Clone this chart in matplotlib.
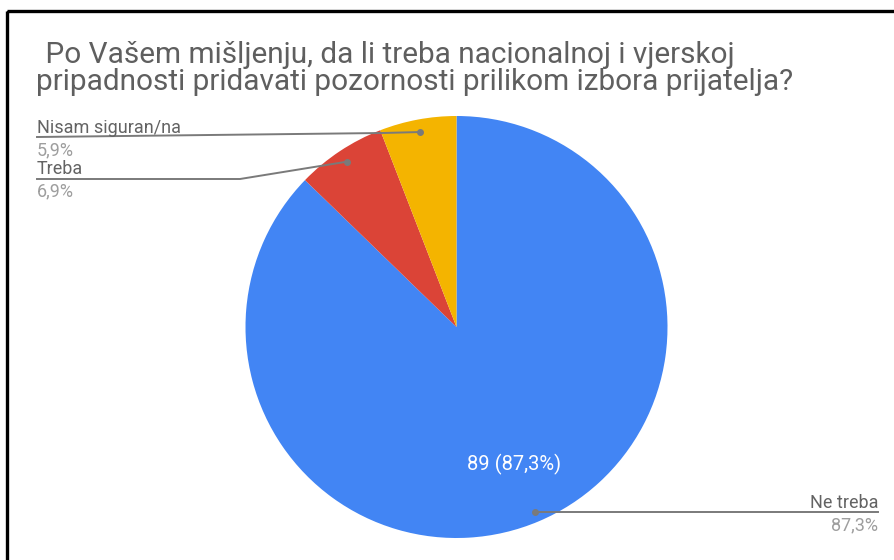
import matplotlib
matplotlib.use("Agg")
import matplotlib.pyplot as plt
from matplotlib.patches import Rectangle
import numpy as np

labels = ["Ne treba", "Treba", "Nisam siguran/na"]
counts = [89, 7, 6]
pct_text = ["87,3%", "6,9%", "5,9%"]
inner_text = "89 (87,3%)"
colors = ["#4285F4", "#DB4437", "#F4B400"]
title1 = " Po Vašem mišljenju, da li treba nacionalnoj i vjerskoj"
title2 = "pripadnosti pridavati pozornosti prilikom izbora prijatelja?"

W, H = 894, 560
fig = plt.figure(figsize=(W / 100, H / 100), dpi=100)
ax = fig.add_axes([0, 0, 1, 1])
plt.rcParams["font.family"] = ["Roboto", "DejaVu Sans"]

cx, cy, R = 456.5, 327, 211
wedges, _ = ax.pie(counts, colors=colors, startangle=-90, counterclock=True,
                   center=(cx, cy), radius=R, frame=True,
                   wedgeprops=dict(linewidth=0))
ax.set_xlim(0, W)
ax.set_ylim(H, 0)
ax.set_aspect("equal")
ax.axis("off")

# frame border
ax.add_patch(Rectangle((7, 11), 1000, 700, fill=False, edgecolor="black",
                       linewidth=2.4, zorder=10))

def anchor(w, f):
    t = np.deg2rad((w.theta1 + w.theta2) / 2)
    return cx + f * R * np.cos(t), cy + f * R * np.sin(t)

lc = "#7a7a7a"
label_col = "#636363"
pct_col = "#9e9e9e"
fs = 13

# Ne treba
ax_, ay_ = anchor(wedges[0], 0.95)
ax.plot([ax_, 878], [ay_, ay_], color=lc, lw=1.4)
ax.plot(ax_, ay_, "o", color=lc, ms=4)
ax.text(878, 508, labels[0], ha="right", va="baseline", fontsize=fs, color=label_col)
ax.text(878, 530, pct_text[0], ha="right", va="baseline", fontsize=fs, color=pct_col)

# Treba
bx, by = anchor(wedges[1], 0.94)
ax.plot([37, 240, bx], [179, 179, by], color=lc, lw=1.4)
ax.plot(bx, by, "o", color=lc, ms=4)
ax.text(37, 174, labels[1], ha="left", va="baseline", fontsize=fs, color=label_col)
ax.text(37, 196, pct_text[1], ha="left", va="baseline", fontsize=fs, color=pct_col)

# Nisam siguran/na
nx, ny = anchor(wedges[2], 0.94)
ax.plot([37, 382, nx], [137, 133, ny], color=lc, lw=1.4)
ax.plot(nx, ny, "o", color=lc, ms=4)
ax.text(37, 133, labels[2], ha="left", va="baseline", fontsize=fs, color=label_col)
ax.text(37, 155, pct_text[2], ha="left", va="baseline", fontsize=fs, color=pct_col)

# inner label
ix, iy = anchor(wedges[0], 0.705)
ax.text(ix, iy, inner_text, ha="center", va="center", fontsize=14.5, color="white")

# title
ax.text(38, 63, title1, ha="left", va="baseline", fontsize=21.4, color="#5f5f5f")
ax.text(36, 90, title2, ha="left", va="baseline", fontsize=21.4, color="#5f5f5f")

fig.savefig("out.png", dpi=100)
